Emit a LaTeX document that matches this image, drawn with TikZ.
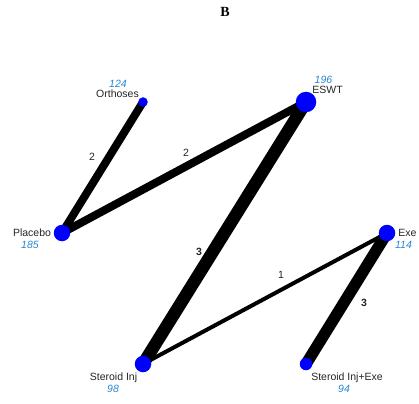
\documentclass[tikz,border=0pt]{standalone}
\usepackage{fontspec}
\setmainfont{Liberation Sans}
\newfontfamily\titlefont{Liberation Serif}
\definecolor{nodeblue}{RGB}{0,0,255}
\definecolor{numblue}{RGB}{40,135,210}
\begin{document}
\begin{tikzpicture}[x=1pt,y=-1pt,
  trt/.style={circle,fill=nodeblue,inner sep=0pt},
  edge/.style={draw=black,line cap=butt},
  lbl/.style={font=\fontsize{10.5}{12}\selectfont,inner sep=0pt,text=black!85},
  num/.style={font=\fontsize{10.5}{12}\selectfont\itshape,inner sep=0pt,text=numblue},
  elbl/.style={font=\fontsize{10.5}{12}\selectfont,inner sep=0pt,text=black!85}]
\useasboundingbox[fill=white] (0,0) rectangle (419,403);
\node[font=\titlefont\fontsize{14}{16}\selectfont\bfseries,inner sep=0pt] (title) at (225,12) {B};
% node positions
\coordinate (orth) at (143,102);
\coordinate (eswt) at (306,102);
\coordinate (plac) at (62,233);
\coordinate (exe) at (387,233);
\coordinate (ster) at (143,364);
\coordinate (sie) at (306,364);
% edges
\draw[edge,line width=8pt] (orth) -- (plac);
\draw[edge,line width=8pt] (plac) -- (eswt);
\draw[edge,line width=12.5pt] (eswt) -- (ster);
\draw[edge,line width=4pt] (ster) -- (exe);
\draw[edge,line width=11.5pt] (exe) -- (sie);
% nodes
\node[trt,minimum size=9.5pt] (nOrth) at (orth) {};
\node[trt,minimum size=20.5pt] (nEswt) at (eswt) {};
\node[trt,minimum size=16.5pt] (nPlac) at (plac) {};
\node[trt,minimum size=16.5pt] (nExe) at (exe) {};
\node[trt,minimum size=16.5pt] (nSter) at (ster) {};
\node[trt,minimum size=12.5pt] (nSie) at (sie) {};
% edge labels
\node[elbl] (e1) at (92,157) {2};
\node[elbl] (e2) at (186,153) {2};
\node[elbl,font=\fontsize{10.5}{12}\selectfont\bfseries] (e3) at (199,252) {3};
\node[elbl] (e4) at (281,275) {1};
\node[elbl,font=\fontsize{10.5}{12}\selectfont\bfseries] (e5) at (364,303) {3};
% node labels
\node[num] (tOrthN) at (118,84) {124};
\node[lbl] (tOrth) at (117.5,94) {Orthoses};
\node[num] (tEswtN) at (323.5,80) {196};
\node[lbl] (tEswt) at (327.5,90) {ESWT};
\node[lbl] (tPlac) at (32,233) {Placebo};
\node[num] (tPlacN) at (30,245) {185};
\node[lbl] (tExe) at (407.5,233) {Exe};
\node[num] (tExeN) at (403.5,245) {114};
\node[lbl] (tSter) at (113.5,378) {Steroid Inj};
\node[num] (tSterN) at (113,389) {98};
\node[lbl] (tSie) at (347,378) {Steroid Inj+Exe};
\node[num] (tSieN) at (344,389) {94};
\end{tikzpicture}
\end{document}
